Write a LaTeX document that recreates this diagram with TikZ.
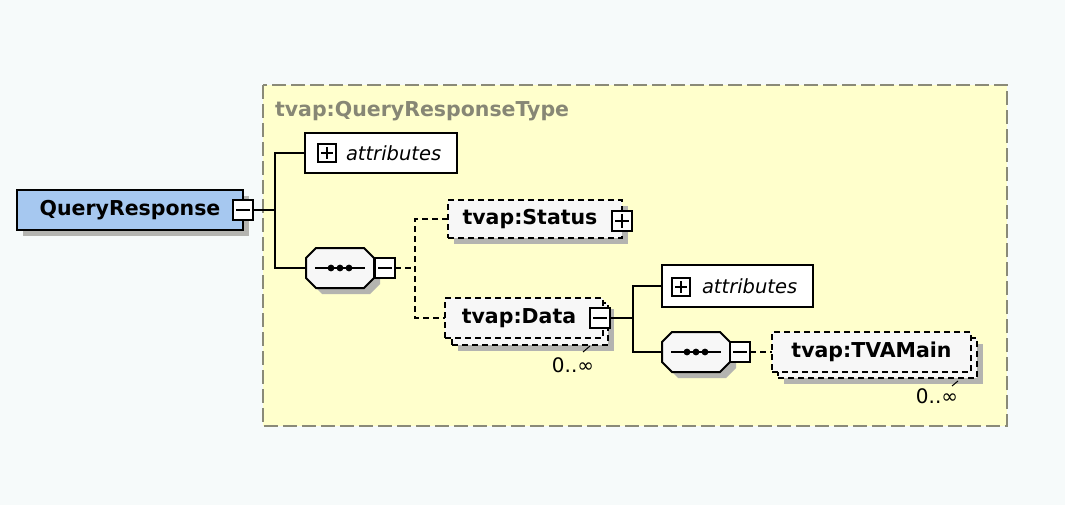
\documentclass[tikz,border=0pt]{standalone}
\usepackage{fontspec}
\setmainfont{DejaVu Sans}
\usetikzlibrary{shadows,calc}
\definecolor{bgc}{HTML}{F6FAFA}
\definecolor{ylw}{HTML}{FFFFCC}
\definecolor{ybord}{HTML}{8A8A78}
\definecolor{qrblue}{HTML}{A6C8F0}
\definecolor{titlec}{HTML}{878775}
\definecolor{shadc}{HTML}{B4B4B0}
\definecolor{elfill}{HTML}{F7F7F7}
\tikzset{
  every node/.style={inner sep=0pt, outer sep=0pt},
  lw/.style={line width=2pt},
  bigtxt/.style={font=\fontsize{20.5}{24}\selectfont\bfseries},
  shad/.style={drop shadow={shadow xshift=6pt, shadow yshift=-6pt, fill=shadc, opacity=1}},
  elem/.style={draw, lw, rectangle, fill=elfill, bigtxt, text=black},
  optelem/.style={elem, dash pattern=on 6pt off 4pt},
  attrbox/.style={draw, lw, fill=white, rectangle},
  attrtxt/.style={font=\fontsize{19.5}{22}\selectfont\itshape},
  multtxt/.style={font=\fontsize{20}{22}\selectfont},
  pmbox/.style={draw, line width=1.6pt, fill=white, rectangle, minimum size=20pt},
  minusbox/.style={pmbox, path picture={\draw[line width=1.6pt] ([xshift=3pt]path picture bounding box.west) -- ([xshift=-3pt]path picture bounding box.east);}},
  plusbox/.style={pmbox, path picture={\draw[line width=1.6pt] ([xshift=3pt]path picture bounding box.west) -- ([xshift=-3pt]path picture bounding box.east); \draw[line width=1.6pt] ([yshift=-3pt]path picture bounding box.north) -- ([yshift=3pt]path picture bounding box.south);}},
  octbox/.style={minimum width=68pt, minimum height=40pt},
  conn/.style={lw},
  dconn/.style={lw, dash pattern=on 6pt off 4pt},
}
\begin{document}
\begin{tikzpicture}[x=1pt,y=-1pt]
\useasboundingbox (0,0) rectangle (1065,505);
\fill[bgc] (0,0) rectangle (1065,505);
\draw[ybord, line width=1.6pt, dash pattern=on 14pt off 5pt, fill=ylw] (263,85) rectangle (1007,426);
\node[anchor=base west, text=titlec, bigtxt] (title) at (275,117) {tvap:QueryResponseType};

% root element
\node[elem, fill=qrblue, shad, minimum width=226pt, minimum height=40pt] (qr) at (130,210) {QueryResponse};
\node[minusbox] (qrm) at (qr.east) {};

% attributes boxes
\node[attrbox, minimum width=152pt, minimum height=40pt] (attr1) at (381,153) {};
\node[plusbox, minimum size=18pt] (attr1p) at (327,153) {};
\node[attrtxt, anchor=west] (attr1t) at (346,153) {attributes};

\node[attrbox, minimum width=151pt, minimum height=42pt] (attr2) at (737.5,286) {};
\node[plusbox, minimum size=18pt] (attr2p) at (681,287) {};
\node[attrtxt, anchor=west] (attr2t) at (702,286) {attributes};

% sequence compositors
\node[octbox] (seq1) at (340,268) {};
\node[octbox] (seq2) at (696,352) {};
\foreach \s in {seq1,seq2}{
  \fill[shadc] ($(\s.north west)+(16,6)$) -- ($(\s.north east)+(-4,6)$) -- ($(\s.north east)+(6,16)$) -- ($(\s.south east)+(6,-4)$) -- ($(\s.south east)+(-4,6)$) -- ($(\s.south west)+(16,6)$) -- ($(\s.south west)+(6,-4)$) -- ($(\s.north west)+(6,16)$) -- cycle;
  \draw[lw, fill=elfill] ($(\s.north west)+(10,0)$) -- ($(\s.north east)+(-10,0)$) -- ($(\s.north east)+(0,10)$) -- ($(\s.south east)+(0,-10)$) -- ($(\s.south east)+(-10,0)$) -- ($(\s.south west)+(10,0)$) -- ($(\s.south west)+(0,-10)$) -- ($(\s.north west)+(0,10)$) -- cycle;
  \draw[lw] ($(\s.center)+(-25,0)$) -- ($(\s.center)+(25,0)$);
  \fill ($(\s.center)+(-9,0)$) circle (3.4);
  \fill (\s.center) circle (3.4);
  \fill ($(\s.center)+(9,0)$) circle (3.4);
}
\node[minusbox] (seq1m) at (385,268) {};
\node[minusbox] (seq2m) at (740,352) {};

% child elements
\node[optelem, shad, minimum width=174pt, minimum height=38pt] (status) at (535,219) {\hspace*{-10pt}tvap:Status};
\node[plusbox] (statusp) at (622,221) {};

\node[optelem, shad, minimum width=156pt, minimum height=42pt] (datab) at (530,324) {};
\node[optelem, minimum width=158pt, minimum height=40pt] (dataf) at (524,318) {\hspace*{-10pt}tvap:Data};
\node[minusbox] (datam) at (600,318) {};
\node[multtxt] (datamul) at (573,365) {0..∞};
\draw[line width=1pt] (583,352) -- (590,346);

\node[optelem, shad, minimum width=199pt, minimum height=40pt] (tvab) at (877.5,358) {};
\node[optelem, minimum width=199pt, minimum height=40pt] (tvaf) at (871.5,352) {tvap:TVAMain};
\node[multtxt] (tvamul) at (937,396) {0..∞};
\draw[line width=1pt] (952,386) -- (958,381);

% connectors
\coordinate (j1) at (275,210);
\draw[conn] (qrm.east) -- (j1);
\draw[conn] (attr1.west) -| (j1) |- (seq1.west);
\coordinate (j2) at (415,268);
\draw[dconn] (seq1m.east) -- (j2);
\draw[dconn] (status.west) -| (j2) |- (dataf.west);
\coordinate (j3) at (633,318);
\draw[conn] (datam.east) -- (j3);
\draw[conn] (attr2.west) -| (j3) |- (seq2.west);
\draw[dconn] (seq2m.east) -- (tvaf.west);
\end{tikzpicture}
\end{document}
